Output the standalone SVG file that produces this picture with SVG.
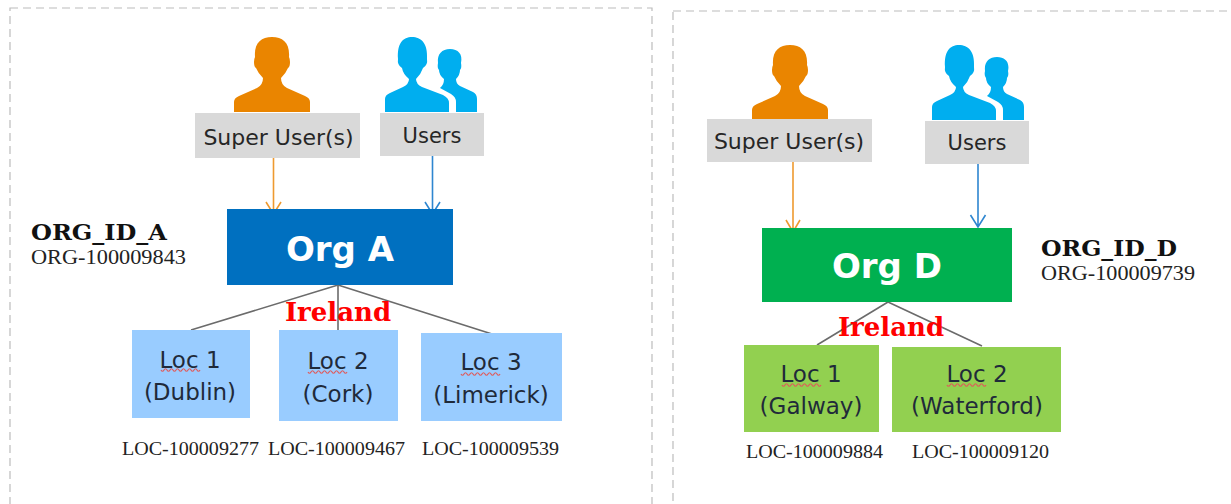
<svg xmlns="http://www.w3.org/2000/svg" width="1231" height="504" viewBox="0 0 1231 504">
<style>
.s{font-family:"DejaVu Sans","Liberation Sans",sans-serif;font-size:22px;fill:#262626;text-anchor:middle}
.u{font-family:"DejaVu Sans","Liberation Sans",sans-serif;font-size:21px;fill:#262626;text-anchor:middle}
.l{font-family:"DejaVu Sans","Liberation Sans",sans-serif;font-size:23px;fill:#1f2a3a;text-anchor:middle}
.g{fill:#d9d9d9}
.t{font-family:"DejaVu Sans","Liberation Sans",sans-serif;font-size:34px;font-weight:bold;fill:#fff;text-anchor:middle}
.r{font-family:"Liberation Serif",serif;font-size:18px;fill:#222;text-anchor:middle}
.o{font-family:"Liberation Serif",serif;font-size:20px;fill:#222}
.b{font-family:"DejaVu Serif","Liberation Serif",serif;font-size:22px;font-weight:bold;fill:#111}
.i{font-family:"DejaVu Serif","Liberation Serif",serif;font-size:26px;font-weight:bold;fill:#ff0000;text-anchor:middle}
.d{fill:none;stroke:#bcbcbc;stroke-width:1.2;stroke-dasharray:8 5}
.c{fill:none;stroke:#6b6b6b;stroke-width:1.6}
.q{fill:none;stroke:#e05a5a;stroke-width:1.2}
.aO{fill:none;stroke:#ee9a30;stroke-width:1.6}
.aB{fill:none;stroke:#2e86d0;stroke-width:1.6}
</style>
<defs>
<path id="person" d="M0 75V65Q0 61 5 59L23 51Q29 48 29 41Q24 36 22 31Q20 30 20 25Q20 22 21 20C20 6 27 0 38 0C49 0 56 6 55 20Q56 22 56 25Q56 30 54 31Q52 36 47 41Q47 48 53 51L71 59Q76 61 76 65V75Z"/>
<g id="users">
<path d="M71 75V65Q71 60 66 57L55 51Q59 48 59 42Q54 38 54 33Q52 31 53 26C52 17 57 12 65 12C73 12 78 17 76 26Q77 31 75 33Q75 38 71 42Q71 47 75 49L88 55Q92 57 92 62V75Z"/>
<path d="M0 75V62Q0 58 5 56L18 50Q24 47 24 42Q18 37 17 31Q12 28 13 22C12 6 18 0 27 0C36 0 43 6 42 22Q43 28 38 31Q36 37 31 42Q31 47 37 50L58 58Q64 61 64 66V75Z"/>
</g>
<path id="sq" class="q" d="M0 0q1.500 2.500 3 0t3 0t3 0t3 0t3 0t3 0t3 0t3 0t3 0t3 0t3 0t3 0t3 0"/>
</defs>

<rect class="d" x="10" y="8" width="642" height="510"/>
<rect class="d" x="673" y="11" width="580" height="510"/>

<g id="connectors">
<path class="aO" d="M273.500 158V214M266 202L273.500 214L281 202"/>
<path class="aB" d="M432.500 156V214M425 202L432.500 214L440 202"/>
<path class="c" d="M338 285L191 330M338 285V331M338 285L492 334"/>
<path class="aO" d="M793 161V232M786 220L793 232L800 220"/>
<path class="aB" d="M978 163V227M970.500 215L978 227L985.500 215"/>
<path class="c" d="M888 302L817 345M888 302L982 346"/>
</g>

<g id="super-a"><use href="#person" x="234" y="37" fill="#ea8500"/><rect class="g" x="195" y="113" width="165" height="45"/><text class="s" x="278.500" y="145">Super User(s)</text></g>
<g id="users-a"><use href="#users" x="385" y="37" fill="#00aeef"/><rect class="g" x="380" y="113" width="104" height="43"/><text class="u" x="432" y="143">Users</text></g>
<g id="org-a"><rect x="227" y="209" width="226" height="76" fill="#0070c0"/><text class="t" x="340" y="261">Org A</text></g>
<g id="org-a-id"><text class="b" x="31" y="240" textLength="136" lengthAdjust="spacingAndGlyphs">ORG_ID_A</text><text class="o" x="31" y="264" textLength="155" lengthAdjust="spacingAndGlyphs">ORG-100009843</text></g>
<text class="i" x="338" y="321">Ireland</text>
<g id="loc-a1"><rect x="132" y="330" width="118" height="88" fill="#99ccff"/><text class="l" x="190" y="368">Loc 1</text><text class="l" x="190" y="400">(Dublin)</text><use href="#sq" x="161" y="370"/></g>
<g id="loc-a2"><rect x="279" y="330" width="119" height="91" fill="#99ccff"/><text class="l" x="338" y="369">Loc 2</text><text class="l" x="338" y="402">(Cork)</text><use href="#sq" x="308" y="372"/></g>
<g id="loc-a3"><rect x="421" y="333" width="141" height="88" fill="#99ccff"/><text class="l" x="491" y="370">Loc 3</text><text class="l" x="491" y="403">(Limerick)</text><use href="#sq" x="461" y="374"/></g>
<text class="r" x="190.500" y="455" textLength="137" lengthAdjust="spacingAndGlyphs">LOC-100009277</text>
<text class="r" x="336.500" y="455" textLength="137" lengthAdjust="spacingAndGlyphs">LOC-100009467</text>
<text class="r" x="490.500" y="455" textLength="137" lengthAdjust="spacingAndGlyphs">LOC-100009539</text>

<g id="super-d"><use href="#person" x="752" y="45" fill="#ea8500"/><rect class="g" x="707" y="119" width="165" height="43"/><text class="s" x="789" y="149">Super User(s)</text></g>
<g id="users-d"><use href="#users" x="932" y="45" fill="#00aeef"/><rect class="g" x="925" y="121" width="104" height="43"/><text class="u" x="977" y="150">Users</text></g>
<g id="org-d"><rect x="762" y="228" width="250" height="74" fill="#00b050"/><text class="t" x="887" y="278">Org D</text></g>
<g id="org-d-id"><text class="b" x="1041" y="256" textLength="136" lengthAdjust="spacingAndGlyphs">ORG_ID_D</text><text class="o" x="1041" y="280" textLength="154" lengthAdjust="spacingAndGlyphs">ORG-100009739</text></g>
<text class="i" x="891" y="336">Ireland</text>
<g id="loc-d1"><rect x="744" y="345" width="135" height="87" fill="#92d050"/><text class="l" x="811" y="382">Loc 1</text><text class="l" x="811" y="414">(Galway)</text><use href="#sq" x="782" y="385"/></g>
<g id="loc-d2"><rect x="892" y="347" width="169" height="85" fill="#92d050"/><text class="l" x="977" y="382">Loc 2</text><text class="l" x="977" y="414">(Waterford)</text><use href="#sq" x="947" y="385"/></g>
<text class="r" x="814.500" y="458" textLength="137" lengthAdjust="spacingAndGlyphs">LOC-100009884</text>
<text class="r" x="980.500" y="458" textLength="137" lengthAdjust="spacingAndGlyphs">LOC-100009120</text>
</svg>
